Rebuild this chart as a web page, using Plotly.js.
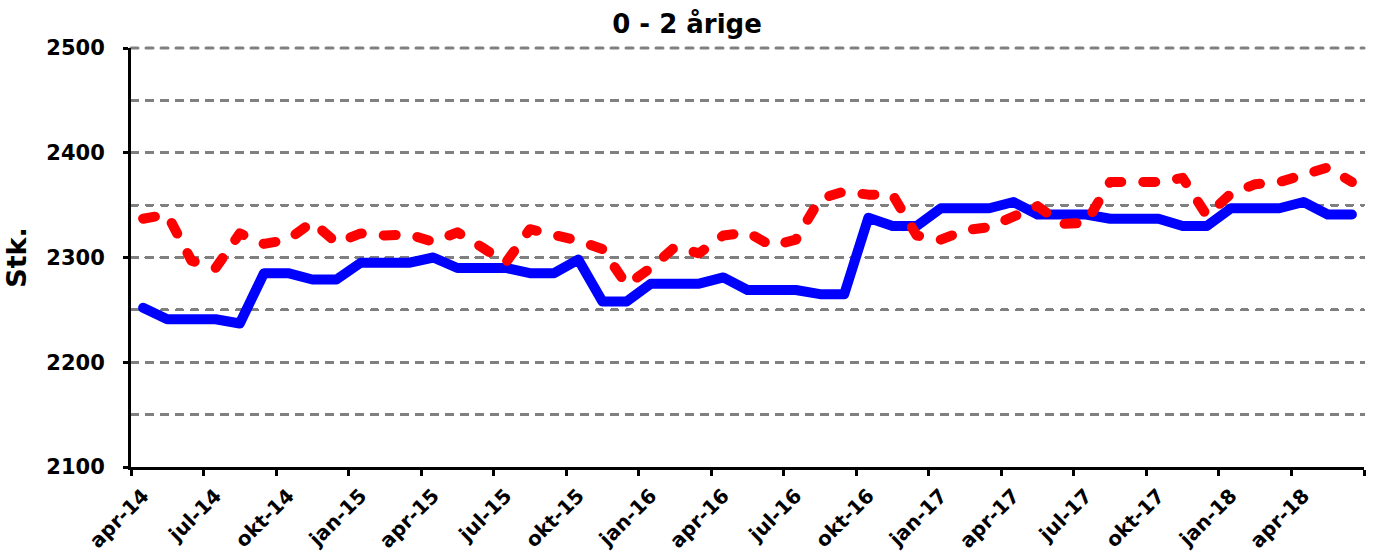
<!DOCTYPE html>
<html>
<head>
<meta charset="utf-8">
<script src="https://cdn.plot.ly/plotly-3.0.1.min.js"></script>
<style>
  html, body { margin: 0; padding: 0; background: #fff; }
  #chart { width: 1374px; height: 555px; }
  .scatterlayer .js-line { stroke-linecap: round; stroke-linejoin: round; }
  .gridlayer path, .minor-gridlayer path, .shapelayer path { stroke-linecap: round; }
</style>
</head>
<body>
<div id="chart"></div>
<script>
const months = ['apr-14','maj-14','jun-14','jul-14','aug-14','sep-14','okt-14','nov-14','dec-14',
  'jan-15','feb-15','mar-15','apr-15','maj-15','jun-15','jul-15','aug-15','sep-15','okt-15','nov-15','dec-15',
  'jan-16','feb-16','mar-16','apr-16','maj-16','jun-16','jul-16','aug-16','sep-16','okt-16','nov-16','dec-16',
  'jan-17','feb-17','mar-17','apr-17','maj-17','jun-17','jul-17','aug-17','sep-17','okt-17','nov-17','dec-17',
  'jan-18','feb-18','mar-18','apr-18','maj-18','jun-18'];

const blueSeries = [2252,2241,2241,2241,2237,2285,2285,2279,2279,2295,2295,2295,2300,2290,2290,2290,
  2285,2285,2298,2258,2258,2275,2275,2275,2281,2269,2269,2269,2265,2265,2338,2330,2330,
  2347,2347,2347,2353,2341,2341,2341,2337,2337,2337,2330,2330,2347,2347,2347,2353,2341,2341];

const redSeries = [2337,2341,2297,2290,2323,2313,2317,2334,2314,2323,2321,2322,2315,2324,2310,2295,
  2327,2322,2316,2308,2274,2290,2310,2304,2321,2324,2311,2317,2356,2363,2360,2360,2321,
  2317,2326,2329,2338,2349,2332,2333,2372,2373,2372,2376,2340,2361,2370,2372,2380,2386,2372];

const yRange = [2100, 2500];
const chartTitle = '0 - 2 årige';
const yTitle = 'Stk.';

const FONT = 'DejaVu Sans';
const GRID = {color: '#808080', width: 3, dash: '7px,8px'};

const traces = [
  {
    x: months, y: blueSeries, type: 'scatter', mode: 'lines',
    line: {color: '#0000FF', width: 10},
    hoverinfo: 'skip', showlegend: false
  },
  {
    x: months, y: redSeries, type: 'scatter', mode: 'lines',
    line: {color: '#FF0000', width: 10, dash: '12px,22px'},
    hoverinfo: 'skip', showlegend: false
  }
];

const layout = {
  width: 1374, height: 555,
  margin: {l: 131, r: 10, t: 48, b: 88, pad: 0},
  paper_bgcolor: '#ffffff', plot_bgcolor: '#ffffff',
  showlegend: false,
  title: {
    text: chartTitle,
    x: 0.5, xref: 'container', xanchor: 'center',
    y: 1 - 24/555, yref: 'container', yanchor: 'middle',
    font: {family: FONT, size: 26, color: '#000', weight: 'bold'}
  },
  shapes: [
    // top gridline (at the upper end of the y range)
    {type: 'line', xref: 'paper', yref: 'paper', x0: 0, x1: 1, y0: 1, y1: 1,
     layer: 'below', line: {color: GRID.color, width: GRID.width, dash: GRID.dash}}
  ],
  xaxis: {
    type: 'category',
    range: [-0.5, months.length - 0.5],
    tickmode: 'linear', tick0: 0, dtick: 3,
    tickson: 'boundaries',
    ticks: 'outside', ticklen: 6, tickwidth: 3, tickcolor: '#000',
    showline: true, linecolor: '#000', linewidth: 3,
    showgrid: false, zeroline: false,
    tickangle: -45,
    ticklabelstandoff: 6,
    tickfont: {family: FONT, size: 20, color: '#000', weight: 'bold'}
  },
  yaxis: {
    range: yRange,
    tickmode: 'linear', tick0: 2100, dtick: 100,
    ticks: 'outside', ticklen: 5, tickwidth: 3, tickcolor: '#000',
    showline: true, linecolor: '#000', linewidth: 3,
    showgrid: true, gridcolor: GRID.color, gridwidth: GRID.width, griddash: GRID.dash,
    minor: {dtick: 50, tick0: 2100, showgrid: true, gridcolor: GRID.color, gridwidth: GRID.width, griddash: GRID.dash, ticks: ''},
    zeroline: false,
    ticklabelstandoff: 14,
    tickfont: {family: FONT, size: 21, color: '#000', weight: 'bold'},
    title: {text: yTitle, standoff: 12, font: {family: FONT, size: 27, color: '#000', weight: 'bold'}}
  }
};

Plotly.newPlot('chart', traces, layout, {staticPlot: true, displayModeBar: false});
</script>
</body>
</html>
